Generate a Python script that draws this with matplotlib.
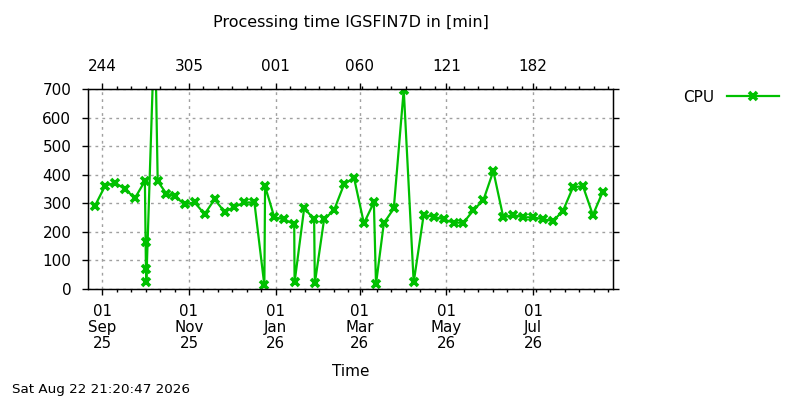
# Processing time plot, gnuplot look
import pandas as pd
import matplotlib
matplotlib.use("Agg")
import matplotlib.pyplot as plt
import matplotlib.dates as mdates
from matplotlib.ticker import AutoMinorLocator

title = "Processing time IGSFIN7D in [min]"
stamp = "Sat Aug 22 21:20:47 2026"
series_name = "CPU"

dates = ["2025-08-27", "2025-09-03", "2025-09-10", "2025-09-17", "2025-09-24",
         "2025-10-01", "2025-10-01 12:00", "2025-10-01 18:00", "2025-10-02",
         "2025-10-08", "2025-10-10", "2025-10-16", "2025-10-22", "2025-10-29",
         "2025-11-05", "2025-11-12", "2025-11-19", "2025-11-26", "2025-12-03",
         "2025-12-10", "2025-12-17", "2025-12-24", "2025-12-24 12:00", "2025-12-31",
         "2026-01-07", "2026-01-14", "2026-01-14 06:00", "2026-01-21", "2026-01-28",
         "2026-01-28 12:00", "2026-02-04", "2026-02-11", "2026-02-18", "2026-02-25",
         "2026-03-04", "2026-03-11", "2026-03-12 12:00", "2026-03-18", "2026-03-25",
         "2026-04-01", "2026-04-08", "2026-04-15", "2026-04-22", "2026-04-29",
         "2026-05-06", "2026-05-13", "2026-05-20", "2026-05-27", "2026-06-03",
         "2026-06-10", "2026-06-17", "2026-06-24", "2026-07-01", "2026-07-08",
         "2026-07-15", "2026-07-22", "2026-07-29", "2026-08-05", "2026-08-12",
         "2026-08-19"]
cpu = [292, 361, 372, 350, 318,
       378, 166, 70, 23,
       950, 378, 334, 324, 297,
       303, 262, 314, 270, 287,
       303, 303, 13, 360, 251,
       244, 226, 23, 283, 244,
       20, 244, 276, 366, 390,
       230, 303, 17, 230, 282,
       698, 23, 259, 253, 244,
       232, 232, 276, 311, 413,
       251, 259, 251, 251, 244,
       238, 274, 356, 360, 259,
       341]

x_start = "2025-08-22"
x_end = "2026-08-26"
y_ticks = list(range(0, 701, 100))

plt.rcParams['font.family'] = 'DejaVu Sans'
plt.rcParams['font.size'] = 11

fig = plt.figure(figsize=(8, 4), dpi=100)
ax = fig.add_axes([0.11, 0.2775, 0.656, 0.5])

t = pd.to_datetime(dates, format='mixed')
ax.plot(t, cpu, color='#00c000', lw=1.6, marker='x', ms=5.5, mew=2.6,
        label=series_name)

ax.set_xlim(pd.Timestamp(x_start), pd.Timestamp(x_end))
ax.set_ylim(0, 700)
ax.set_yticks(y_ticks)

major = mdates.MonthLocator(bymonth=[1, 3, 5, 7, 9, 11], bymonthday=1)
ax.xaxis.set_major_locator(major)
ax.xaxis.set_major_formatter(mdates.DateFormatter('%d\n%b\n%y'))
ax.xaxis.set_minor_locator(AutoMinorLocator(6))
ax.tick_params(axis='x', which='major', direction='out', length=4.5, width=1,
               pad=6, labelsize=10.8)
ax.tick_params(axis='x', which='minor', direction='out', length=2.5, width=1)
ax.tick_params(axis='y', which='major', direction='out', length=4.5, width=1,
               right=True, pad=7.5, labelsize=11)
for lab in ax.get_xticklabels():
    lab.set_linespacing(1.08)

ax.grid(True, which='major', color='#a0a0a0', ls=(0, (2, 3)), lw=1)
for s in ax.spines.values():
    s.set_linewidth(1)

# top axis: day of year
top = ax.twiny()
top.set_xlim(ax.get_xlim())
top.xaxis.set_major_locator(mdates.MonthLocator(bymonth=[1, 3, 5, 7, 9, 11], bymonthday=1))
top.xaxis.set_major_formatter(mdates.DateFormatter('%j'))
top.xaxis.set_minor_locator(AutoMinorLocator(6))
top.tick_params(axis='x', which='major', direction='out', length=4.5, width=1,
                pad=6, labelsize=11)
top.tick_params(axis='x', which='minor', direction='out', length=2.5, width=1)

ax.set_xlabel("Time", labelpad=10, fontsize=11)

fig.text(350.5 / 800, 1 - 23 / 400, title, ha='center', va='center', fontsize=11.5)
fig.text(12 / 800, 1 - 390 / 400, stamp, ha='left', va='center', fontsize=9.7)

fig.legend(loc='center right', bbox_to_anchor=(785 / 800, 1 - 97 / 400),
           frameon=False, markerfirst=False, handlelength=3.4, fontsize=11,
           borderaxespad=0, handletextpad=0.8)

fig.savefig("out.png", dpi=100)
